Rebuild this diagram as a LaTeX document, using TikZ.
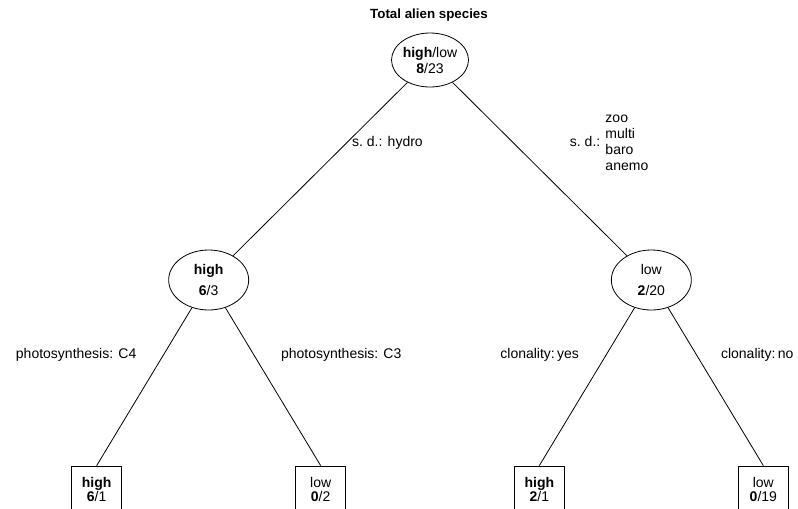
\documentclass[tikz,border=0pt]{standalone}
\usepackage{fontspec}
\setmainfont{Liberation Sans}
\usetikzlibrary{shapes.geometric}

\begin{document}
\begin{tikzpicture}[
		font=\fontsize{10.5}{12}\selectfont,
		line width=0.6pt,
		level distance=165pt,
		level 1/.style={sibling distance=332pt},
		level 2/.style={sibling distance=168pt, level distance=157pt, child anchor=north},
		splitnode/.style={ellipse, draw, inner sep=0pt, minimum width=60pt, minimum height=45pt, align=center},
		leafbox/.style={rectangle, draw, inner sep=1pt, minimum width=37.5pt, minimum height=35pt, align=center, font=\fontsize{10.5}{11}\selectfont},
		edgelabel/.style={inner sep=4pt, align=left},
		labelleft/.style={edgelabel, left, xshift=-16pt},
		labelright/.style={edgelabel, right, xshift=16pt}
		]
		\useasboundingbox (0,0) rectangle (598.5pt,-381pt);
		% Title
		\node[font=\bfseries\fontsize{10}{12}\selectfont] (title) at (321.75pt,-11.25pt) {Total alien species};
		% Root Node
		\node[splitnode, minimum width=55.5pt, minimum height=40.5pt] (root) at (322.5pt,-45pt) {\textbf{high}/low\\\textbf{8}/23}
		child { node[splitnode] (high) {\textbf{high}\\[4pt]\textbf{6}/3}
			child { node[leafbox] (cfour) {\textbf{high}\\\textbf{6}/1}
				edge from parent node[labelleft, pos=0.3] {photosynthesis: C4} }
			child { node[leafbox] (cthree) {low\\\textbf{0}/2}
				edge from parent node[labelright, pos=0.3] {photosynthesis: C3} }
			edge from parent node[edgelabel, right, pos=0.35] {s.\ d.: hydro}
		}
		child { node[splitnode] (low) {low\\[4pt]\textbf{2}/20}
			child { node[leafbox] (clonyes) {\textbf{high}\\\textbf{2}/1}
				edge from parent node[labelleft, pos=0.3] {clonality:\,yes} }
			child { node[leafbox] (clonno) {low\\\textbf{0}/19}
				edge from parent node[labelright, pos=0.3, xshift=-2pt] {clonality:\,no} }
			edge from parent node[edgelabel, right, pos=0.35, xshift=38pt] {s.\ d.: \begin{tabular}[c]{@{}l@{}}zoo\\multi\\baro\\anemo\end{tabular}}
		};
	\end{tikzpicture}
\end{document}
